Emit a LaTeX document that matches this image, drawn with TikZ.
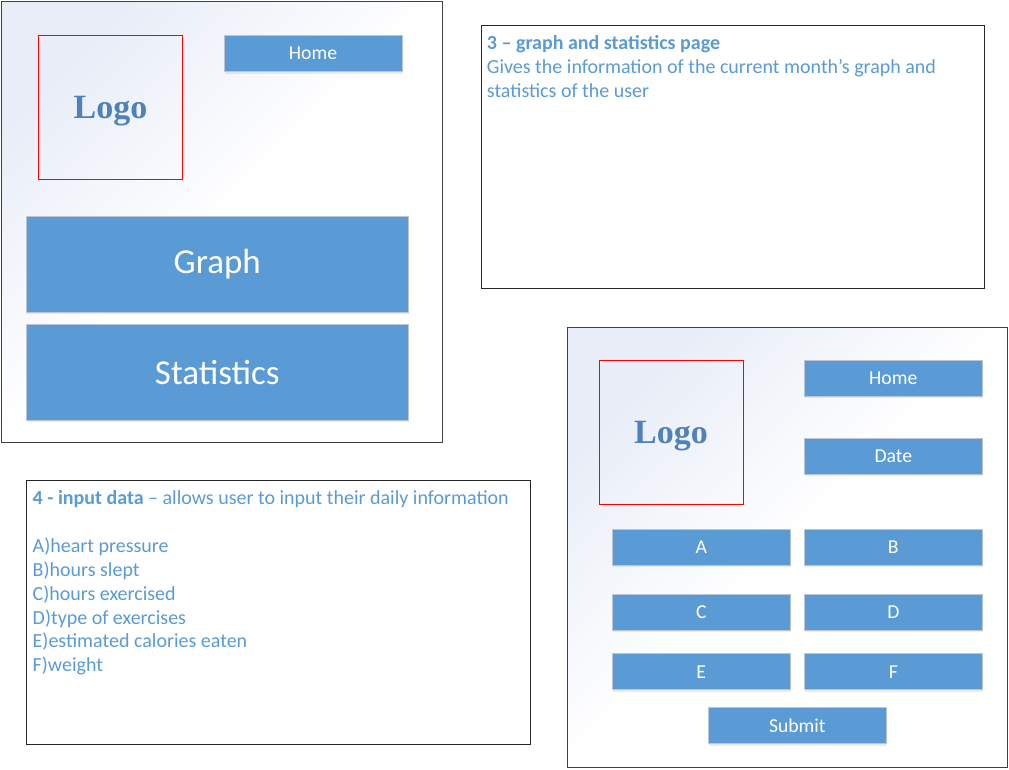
\documentclass[tikz,border=0pt]{standalone}
\usepackage{fontspec}
\setmainfont{Carlito}
\newfontfamily\logofont{Liberation Serif}
\usetikzlibrary{shadows}
\definecolor{btnblue}{HTML}{5B9BD5}
\definecolor{txtblue}{HTML}{5B9BD5}
\definecolor{logoblue}{HTML}{4F81BD}
\definecolor{btnedge}{HTML}{BCC5D3}
\definecolor{bgblue}{HTML}{E8EDF7}
\tikzset{
 frame/.style={draw=black!75, line width=1pt, top color=bgblue, bottom color=white, middle color=white, shading angle=45, inner sep=0pt},
 logobox/.style={draw=red, line width=0.9pt, inner sep=0pt, minimum width=144pt, minimum height=144pt, text depth=0pt, font=\logofont\bfseries\fontsize{34}{40}\selectfont, text=logoblue},
 btn/.style={fill=btnblue, draw=btnedge, line width=1pt, text=white, inner sep=0pt, drop shadow={shadow xshift=0.5pt, shadow yshift=-2pt, opacity=0.15}},
 smallbtn/.style={btn, minimum width=178pt, minimum height=36pt, font=\fontsize{19.7}{22}\selectfont},
 bigbtn/.style={btn, minimum width=382.5pt, minimum height=95.5pt, font=\fontsize{35}{40}\selectfont},
 textbox/.style={draw=black!85, line width=1pt, fill=white, inner sep=0pt},
 txt/.style={text=txtblue, font=\fontsize{20}{23.9}\selectfont, align=left, inner sep=0pt, anchor=north west}
}
\begin{document}
\begin{tikzpicture}[x=1pt,y=-1pt]
\useasboundingbox (0,0) rectangle (1009,769);
% frame 1
\node[frame, minimum width=441pt, minimum height=441pt] (f1) at (221.5,221.5) {};
\node[logobox] (logo1) at (110.5,107) {Logo};
\node[smallbtn] (home1) at (313,53.5) {Home};
\node[bigbtn] (graph) at (217.25,264.6) {Graph};
\node[bigbtn] (stats) at (217.25,372.3) {Statistics};
% text box 3
\node[textbox, minimum width=503pt, minimum height=263pt] (t3) at (732.5,156.5) {};
\node[txt] (t3text) at (486.7,32.8) {\strut\textbf{3 – graph and statistics page}\\Gives the information of the current month’s graph and\\statistics of the user};
% text box 4
\node[textbox, minimum width=504pt, minimum height=263.5pt] (t4) at (278,612.25) {};
\node[txt] (t4text) at (32.5,487.6) {\strut\textbf{4 - input data} – allows user to input their daily information\\\mbox{}\\A)heart pressure\\B)hours slept\\C)hours exercised\\D)type of exercises\\E)estimated calories eaten\\F)weight};
% frame 2
\node[frame, minimum width=440.5pt, minimum height=440.5pt] (f2) at (787.25,547.25) {};
\node[logobox] (logo2) at (671,432.3) {Logo};
\node[smallbtn] (home2) at (893.3,378.3) {Home};
\node[smallbtn] (date) at (893.3,456.3) {Date};
\node[smallbtn] (a) at (701.3,547.3) {A};
\node[smallbtn] (b) at (893.3,547.3) {B};
\node[smallbtn] (c) at (701.3,612) {C};
\node[smallbtn] (d) at (893.3,612) {D};
\node[smallbtn] (e) at (701.3,671.7) {E};
\node[smallbtn] (f) at (893.3,671.7) {F};
\node[smallbtn] (submit) at (797.3,725.7) {Submit};
\end{tikzpicture}
\end{document}
